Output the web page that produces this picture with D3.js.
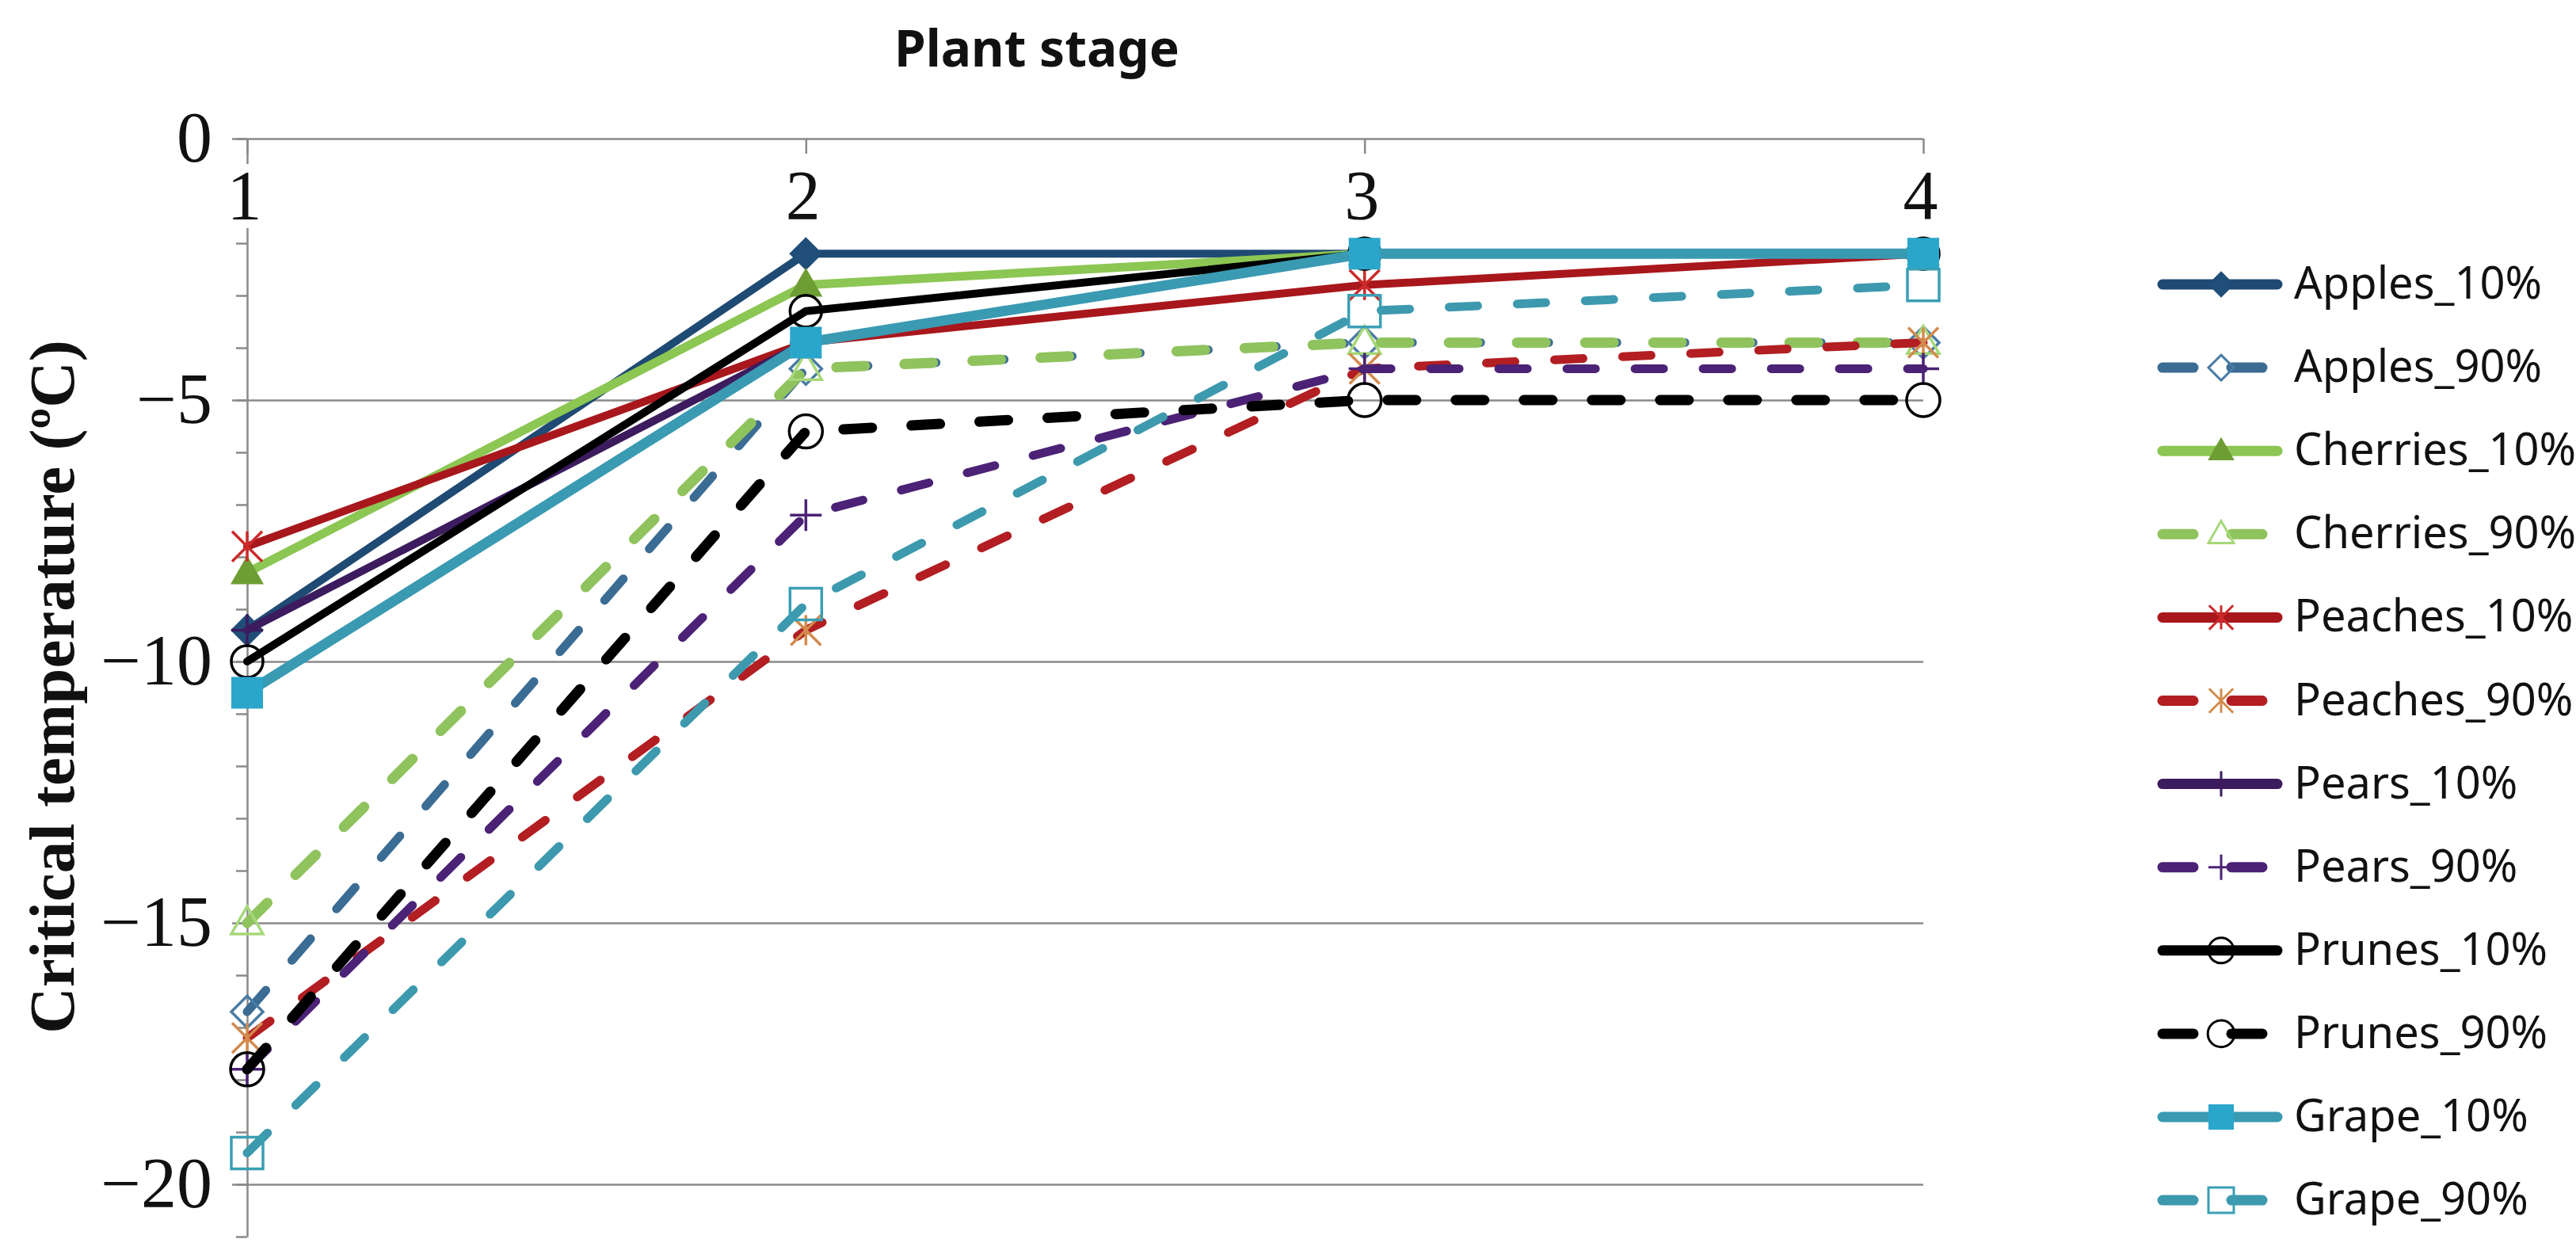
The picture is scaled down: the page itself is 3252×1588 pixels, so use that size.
<!DOCTYPE html>
<html>
<head>
<meta charset="utf-8">
<script src="https://cdn.jsdelivr.net/npm/d3@7"></script>
<style>
  body { margin: 0; background: #fff; }
</style>
</head>
<body>
<div class="chart"></div>
<script>
// ======================================
// Data
// ======================================
var stages = [1, 2, 3, 4];
var yTicks = [0, -5, -10, -15, -20];
var seriesNames = [
   'Apples_10%', 'Apples_90%', 'Cherries_10%', 'Cherries_90%',
   'Peaches_10%', 'Peaches_90%', 'Pears_10%', 'Pears_90%',
   'Prunes_10%', 'Prunes_90%', 'Grape_10%', 'Grape_90%'
];
var apples10   = [-9.4, -2.2, -2.2, -2.2];
var apples90   = [-16.7, -4.4, -3.9, -3.9];
var cherries10 = [-8.3, -2.8, -2.2, -2.2];
var cherries90 = [-15.0, -4.4, -3.9, -3.9];
var peaches10  = [-7.8, -3.9, -2.8, -2.2];
var peaches90  = [-17.2, -9.4, -4.4, -3.9];
var pears10    = [-9.4, -3.9, -2.2, -2.2];
var pears90    = [-17.8, -7.2, -4.4, -4.4];
var prunes10   = [-10.0, -3.3, -2.2, -2.2];
var prunes90   = [-17.8, -5.6, -5.0, -5.0];
var grape10    = [-10.6, -3.9, -2.2, -2.2];
var grape90    = [-19.4, -8.9, -3.3, -2.8];

var seriesValues = [apples10, apples90, cherries10, cherries90, peaches10, peaches90,
   pears10, pears90, prunes10, prunes90, grape10, grape90];

// ======================================
// Styles, one per series (same order as the names)
// ======================================
var styles = [
   { line: '#1f4a73', width: 10, dash: false, shape: 'diamond',  fill: '#1f4e79', stroke: 'none',    size: 42 },
   { line: '#3b6c94', width: 11, dash: true,  shape: 'diamond',  fill: 'none',    stroke: '#4a7ba5', size: 40 },
   { line: '#8cc653', width: 11, dash: false, shape: 'triangle', fill: '#6e9d34', stroke: 'none',    size: 42 },
   { line: '#8fc35d', width: 13, dash: true,  shape: 'triangle', fill: 'none',    stroke: '#a6d87a', size: 40 },
   { line: '#a8171c', width: 10, dash: false, shape: 'star',     fill: 'none',    stroke: '#cc2a2a', size: 38 },
   { line: '#b21e22', width: 11, dash: true,  shape: 'star',     fill: 'none',    stroke: '#d38a4c', size: 38 },
   { line: '#3c1b5e', width: 10, dash: false, shape: 'plus',     fill: 'none',    stroke: '#3c1b5e', size: 40 },
   { line: '#4b2275', width: 11, dash: true,  shape: 'plus',     fill: 'none',    stroke: '#4b2275', size: 40 },
   { line: '#000000', width: 10, dash: false, shape: 'circle',   fill: 'none',    stroke: '#000000', size: 40 },
   { line: '#000000', width: 13, dash: true,  shape: 'circle',   fill: 'none',    stroke: '#000000', size: 42 },
   { line: '#3a9ab2', width: 13, dash: false, shape: 'square',   fill: '#2aa6cb', stroke: 'none',    size: 40 },
   { line: '#3d99ae', width: 11, dash: true,  shape: 'square',   fill: 'none',    stroke: '#3a9fb5', size: 40 }
];

// ======================================
// Marker shapes for d3.symbol (size = full width)
// ======================================
var shapes = {
   diamond: { draw: function(ctx, s){ var r = s / 2;
      ctx.moveTo(0, -r); ctx.lineTo(r, 0); ctx.lineTo(0, r); ctx.lineTo(-r, 0); ctx.closePath(); } },
   triangle: { draw: function(ctx, s){ var h = s * 0.87;
      ctx.moveTo(0, -h * 0.6); ctx.lineTo(s / 2, h * 0.4); ctx.lineTo(-s / 2, h * 0.4); ctx.closePath(); } },
   star: { draw: function(ctx, s){ var r = s / 2;
      ctx.moveTo(-r, -r); ctx.lineTo(r, r); ctx.moveTo(r, -r); ctx.lineTo(-r, r);
      ctx.moveTo(0, -r); ctx.lineTo(0, r); } },
   plus: { draw: function(ctx, s){ var r = s / 2;
      ctx.moveTo(-r, 0); ctx.lineTo(r, 0); ctx.moveTo(0, -r); ctx.lineTo(0, r); } },
   circle: { draw: function(ctx, s){ var r = s / 2;
      ctx.moveTo(r, 0); ctx.arc(0, 0, r, 0, 2 * Math.PI); } },
   square: { draw: function(ctx, s){ var r = s / 2; ctx.rect(-r, -r, s, s); } }
};

// ======================================
// Svg dimensions
// ======================================
var chart = { width: 3252, height: 1588, left: 312, right: 2428, top: 175, bottom: 1561 };
var serif = '"Liberation Serif", "Times New Roman", serif';
var sans = '"Noto Sans", "Open Sans", sans-serif';
var gridColor = '#8a8a8a';

var svg = d3.select('.chart')
   .append('svg')
   .attr('width', chart.width)
   .attr('height', chart.height)
   .style('display', 'block');

var x = d3.scaleLinear().domain([1, 4]).range([chart.left, chart.right]);
var y = d3.scaleLinear().domain([-21, 0]).range([chart.bottom, chart.top]);

// ======================================
// Gridlines (major, reaching a bit left of the axis)
// ======================================
var grid = svg.append('g')
   .attr('transform', 'translate(' + (chart.left - 19) + ',0)')
   .call(d3.axisRight(y).tickValues(yTicks).tickSize(chart.right - chart.left + 19).tickFormat(''));
grid.select('.domain').remove();
grid.selectAll('line').attr('stroke', gridColor).attr('stroke-width', 2.5);

// ======================================
// Y axis with minor ticks every degree
// ======================================
var yAxis = svg.append('g')
   .attr('transform', 'translate(' + chart.left + ',0)')
   .call(d3.axisLeft(y)
      .tickValues(d3.range(-21, 1))
      .tickSize(14)
      .tickSizeOuter(0)
      .tickPadding(30)
      .tickFormat(function(d){ return yTicks.indexOf(d) >= 0 ? d3.format('')(d) : ''; }));
yAxis.select('.domain').attr('stroke', gridColor).attr('stroke-width', 2.5);
yAxis.selectAll('line').attr('stroke', gridColor).attr('stroke-width', 2.5);
yAxis.selectAll('text')
   .attr('font-family', serif)
   .attr('font-size', '90px')
   .attr('fill', '#111');

// ======================================
// X axis along the zero line, ticks pointing down
// ======================================
var xAxis = svg.append('g')
   .attr('transform', 'translate(0,' + y(0) + ')')
   .call(d3.axisBottom(x).tickValues(stages).tickSize(19).tickPadding(20).tickFormat(d3.format('d')));
xAxis.select('.domain').remove();
xAxis.selectAll('line').attr('stroke', gridColor).attr('stroke-width', 2.5);
xAxis.selectAll('text')
   .attr('font-family', serif)
   .attr('font-size', '88px')
   .attr('fill', '#111')
   .attr('dx', '-4')
   .attr('stroke', '#fff')
   .attr('stroke-width', 22)
   .attr('paint-order', 'stroke');

// ======================================
// Lines, then markers
// ======================================
var line = d3.line()
   .x(function(d, i){ return x(stages[i]); })
   .y(function(d){ return y(d); });

var series = svg.selectAll('g.series')
   .data(seriesValues)
   .enter()
   .append('g')
   .attr('class', 'series');

series.append('path')
   .attr('d', function(d){ return line(d); })
   .attr('fill', 'none')
   .attr('stroke', function(d, i){ return styles[i].line; })
   .attr('stroke-width', function(d, i){ return styles[i].width; })
   .attr('stroke-linejoin', 'round')
   .attr('stroke-linecap', 'round')
   .attr('stroke-dasharray', function(d, i){ return styles[i].dash ? '36,50' : null; });

series.each(function(vals, i){
   var st = styles[i];
   var sym = d3.symbol().type(shapes[st.shape]).size(st.size);
   d3.select(this).selectAll('path.marker')
      .data(vals)
      .enter()
      .append('path')
      .attr('class', 'marker')
      .attr('transform', function(d, j){ return 'translate(' + x(stages[j]) + ',' + y(d) + ')'; })
      .attr('d', sym)
      .attr('fill', st.fill)
      .attr('stroke', st.stroke)
      .attr('stroke-width', st.fill === 'none' ? 3.5 : 0);
});

// ======================================
// Titles
// ======================================
svg.append('text')
   .text('Plant stage')
   .attr('x', 1309)
   .attr('y', 84)
   .attr('text-anchor', 'middle')
   .attr('font-family', sans)
   .attr('font-weight', 'bold')
   .attr('font-size', '64px')
   .attr('fill', '#111');

svg.append('text')
   .text('Critical temperature (ºC)')
   .attr('transform', 'translate(93,867) rotate(-90)')
   .attr('text-anchor', 'middle')
   .attr('font-family', serif)
   .attr('font-weight', 'bold')
   .attr('font-size', '81px')
   .attr('fill', '#111');

// ======================================
// Legend
// ======================================
var legend = svg.selectAll('g.legend')
   .data(seriesNames)
   .enter()
   .append('g')
   .attr('class', 'legend')
   .attr('transform', function(d, i){ return 'translate(0,' + (359 + i * 105.1) + ')'; });

legend.append('line')
   .attr('x1', 2730)
   .attr('x2', function(d, i){ return styles[i].dash ? 2860 : 2875; })
   .attr('stroke', function(d, i){ return styles[i].line; })
   .attr('stroke-width', 13)
   .attr('stroke-linecap', 'round')
   .attr('stroke-dasharray', function(d, i){ return styles[i].dash ? '39,48' : null; });

legend.append('path')
   .attr('transform', 'translate(2804,0)')
   .attr('d', function(d, i){ return d3.symbol().type(shapes[styles[i].shape]).size(styles[i].size * 0.8)(); })
   .attr('fill', function(d, i){ return styles[i].fill; })
   .attr('stroke', function(d, i){ return styles[i].stroke; })
   .attr('stroke-width', function(d, i){ return styles[i].fill === 'none' ? 3 : 0; });

legend.append('text')
   .text(function(d){ return d; })
   .attr('x', 2896)
   .attr('y', 18)
   .attr('font-family', sans)
   .attr('font-size', '56px')
   .attr('fill', '#111');
</script>
</body>
</html>
